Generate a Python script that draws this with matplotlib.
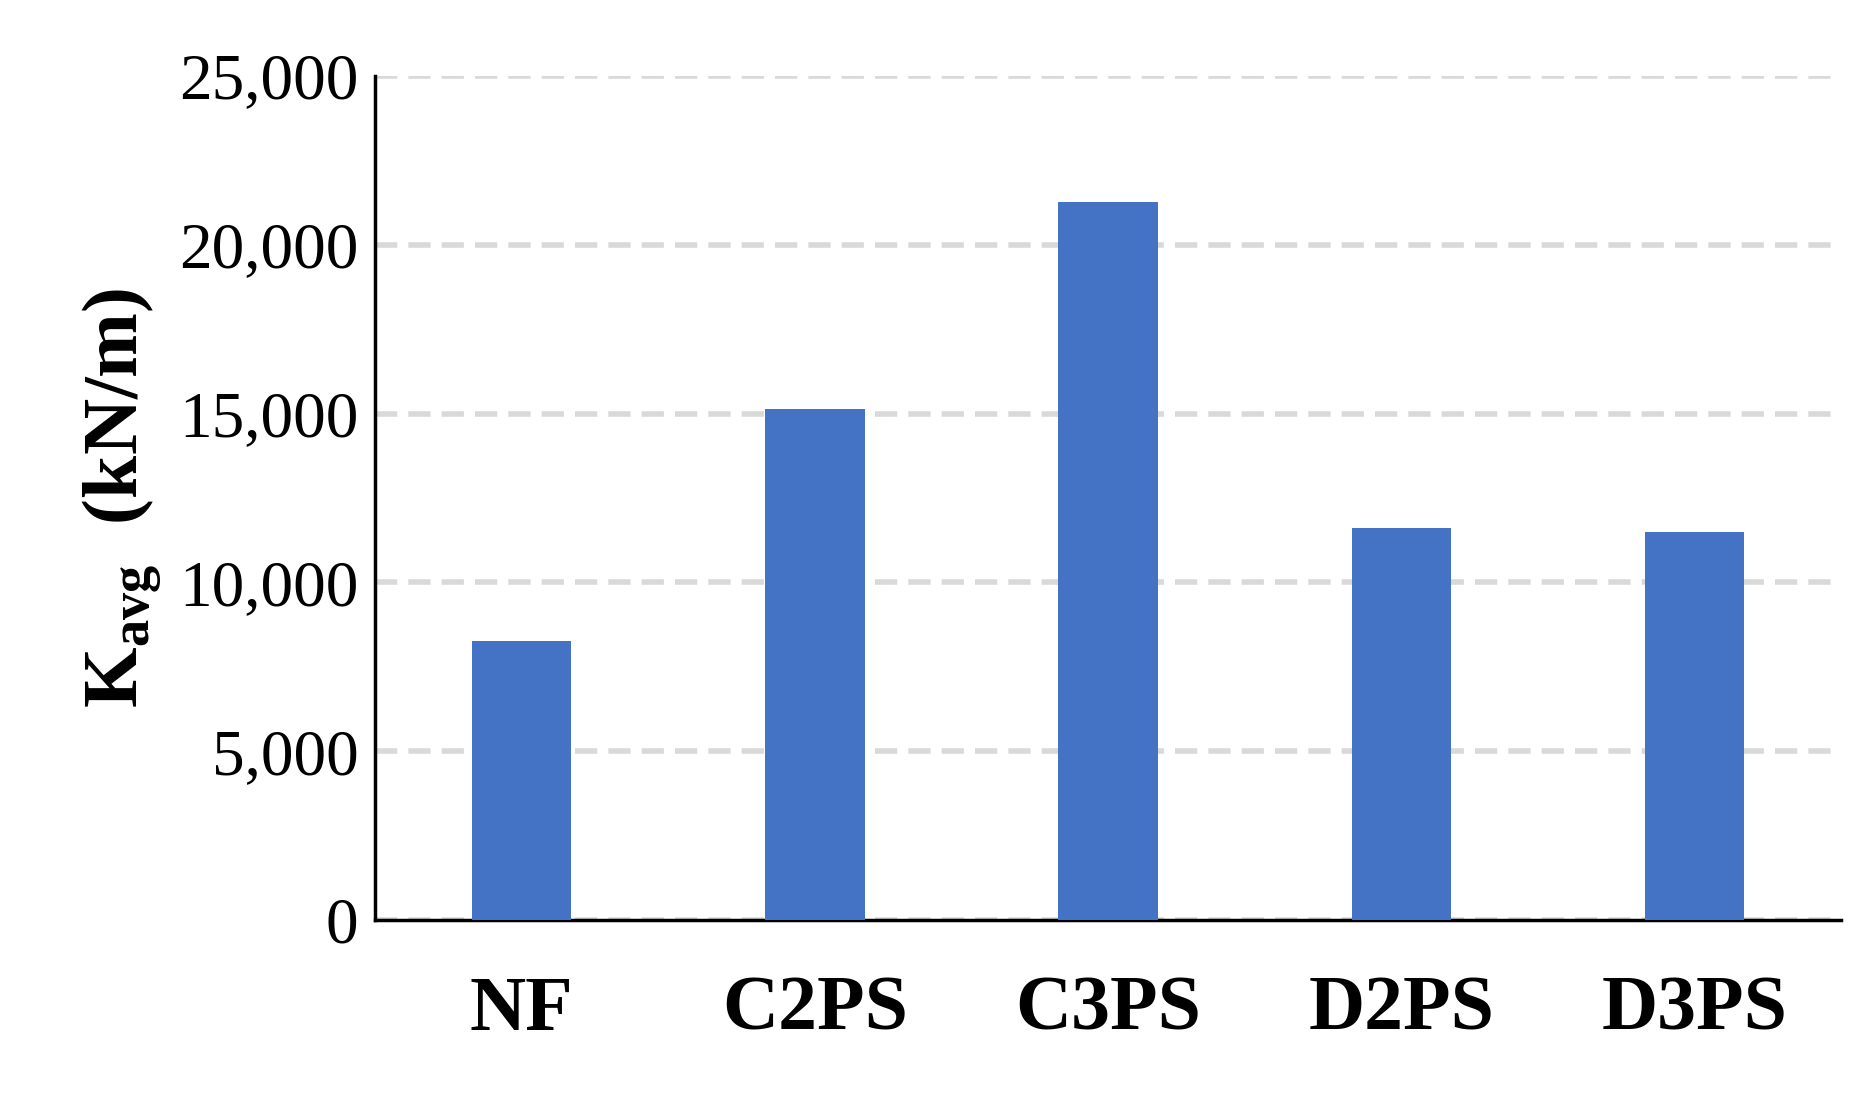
import matplotlib.pyplot as plt
from matplotlib.ticker import FuncFormatter

categories = ['NF', 'C2PS', 'C3PS', 'D2PS', 'D3PS']
k_avg = [8250, 15130, 21270, 11610, 11500]

plt.rcParams['font.family'] = ['Liberation Serif', 'DejaVu Serif']
plt.rcParams['mathtext.fontset'] = 'custom'
plt.rcParams['mathtext.rm'] = 'Liberation Serif'
plt.rcParams['mathtext.bf'] = 'Liberation Serif:bold'

fig = plt.figure(figsize=(18.75, 10.98), dpi=100)
ax = fig.add_axes([0.200, 0.162, 0.782, 0.769])

ax.bar(range(len(categories)), k_avg, width=0.34, color='#4472C4', zorder=3)
ax.set_xlim(-0.5, len(categories) - 0.5)
ax.set_ylim(0, 25000)
ax.set_yticks(range(0, 25001, 5000))
ax.yaxis.set_major_formatter(FuncFormatter(lambda v, p: f'{int(v):,}'))
ax.set_xticks(range(len(categories)))
ax.set_xticklabels(categories, fontsize=56, fontweight='bold')
ax.tick_params(axis='y', labelsize=47, length=0, pad=12)
ax.tick_params(axis='x', length=0, pad=40)
ax.grid(axis='y', color='#D9D9D9', linestyle=(0, (4, 2)), linewidth=4, zorder=0)
for s in ['top', 'right']:
    ax.spines[s].set_visible(False)
ax.spines['left'].set_linewidth(2.5)
ax.spines['bottom'].set_linewidth(2.5)
ax.set_ylabel(r'K$_{\mathbf{avg}}$  (kN/m)', fontsize=56, fontweight='bold', labelpad=10)

fig.savefig('out.png', dpi=100)
